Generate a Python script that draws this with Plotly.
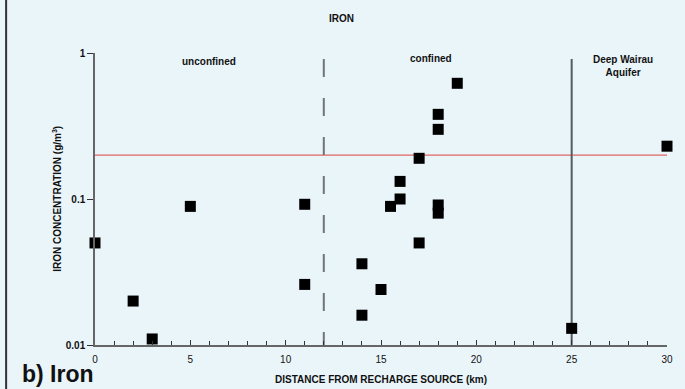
import math
import plotly.graph_objects as go

# Data
distance_km = [0, 2, 3, 5, 11, 11, 14, 14, 15, 15.5, 16, 16, 17, 17, 18, 18, 18, 18, 19, 25, 30]
iron_gm3 = [0.050, 0.020, 0.011, 0.089, 0.092, 0.026, 0.036, 0.016, 0.024, 0.089, 0.100, 0.132,
            0.190, 0.050, 0.38, 0.30, 0.091, 0.080, 0.62, 0.013, 0.23]

guideline_x = [0, 30]
guideline_y = [0.2, 0.2]

confined_boundary_x = 12
deep_aquifer_boundary_x = 25
boundary_top = 0.91
boundary_bottom = 0.01

zone_labels = ["unconfined", "confined", "Deep Wairau<br>Aquifer"]
zone_label_x = [6, 17.6, 27.7]
zone_label_y = [0.87, 0.92, 0.82]

x_tick_vals = [0, 5, 10, 15, 20, 25, 30]
y_tick_vals = [0.01, 0.1, 1]
y_tick_text = ["0.01", "0.1", "1"]

FONT = "Liberation Sans, Arial, sans-serif"
BG = "#EAF5FA"

fig = go.Figure()

# Guideline (red)
fig.add_trace(go.Scatter(x=guideline_x, y=guideline_y, mode="lines",
                         line=dict(color="#E06464", width=1.2), hoverinfo="skip",
                         showlegend=False, cliponaxis=False))

# Boundaries
fig.add_trace(go.Scatter(x=[confined_boundary_x, confined_boundary_x], y=[boundary_top, boundary_bottom],
                         mode="lines", line=dict(color="#6E7477", width=2, dash="18px,21px"),
                         hoverinfo="skip", showlegend=False))
fig.add_trace(go.Scatter(x=[deep_aquifer_boundary_x, deep_aquifer_boundary_x], y=[boundary_top, boundary_bottom],
                         mode="lines", line=dict(color="#555B5E", width=2),
                         hoverinfo="skip", showlegend=False))

# Data points
fig.add_trace(go.Scatter(x=distance_km, y=iron_gm3, mode="markers",
                         marker=dict(symbol="square", size=11, color="black",
                                     line=dict(width=0)),
                         showlegend=False, cliponaxis=False))

for txt, xx, yy in zip(zone_labels, zone_label_x, zone_label_y):
    fig.add_annotation(x=xx, y=math.log10(yy), xref="x", yref="y", yanchor="middle",
                       text=f"<b>{txt}</b>", showarrow=False,
                       font=dict(family=FONT, size=10, color="#111"), align="center")

# Chart title
fig.add_annotation(x=(343 - 94.5) / 576, y=(345 - 19) / 292, xref="paper", yref="paper",
                   text="<b>IRON</b>", showarrow=False, xanchor="center", yanchor="middle",
                   font=dict(family=FONT, size=10, color="#111"))

# Panel label
fig.add_annotation(x=(19 - 94.5) / 576, y=(345 - 389) / 292, xref="paper", yref="paper",
                   text="<b>b) Iron</b>", showarrow=False, xanchor="left", yanchor="bottom",
                   font=dict(family=FONT, size=23, color="#111"))

# Axis titles as annotations for precise placement
fig.add_annotation(x=0.5, y=(345 - 379) / 292, xref="paper", yref="paper",
                   text="<b>DISTANCE FROM RECHARGE SOURCE (km)</b>", showarrow=False,
                   xanchor="center", yanchor="middle",
                   font=dict(family=FONT, size=10, color="#111"))
fig.add_annotation(x=(56 - 94.5) / 576, y=0.5, xref="paper", yref="paper",
                   text="<b>IRON CONCENTRATION (g/m<sup>3</sup>)</b>", showarrow=False,
                   textangle=-90, xanchor="center", yanchor="middle",
                   font=dict(family=FONT, size=10, color="#111"))

# Left border of the panel
fig.add_shape(type="line", xref="paper", yref="paper",
              x0=(5 - 94.5) / 576, x1=(5 - 94.5) / 576, y0=-0.2, y1=1.3,
              line=dict(color="#333", width=2))

fig.update_xaxes(range=[0, 30], tickvals=x_tick_vals, ticks="inside", ticklen=5, tickwidth=1,
                 tickcolor="#333", showline=True, linecolor="#666", linewidth=1.5,
                 showgrid=False, zeroline=False, mirror=False, ticklabelstandoff=4,
                 minor=dict(dtick=1, ticks="inside", ticklen=4, tickcolor="#333", showgrid=False),
                 tickfont=dict(family=FONT, size=10, color="#111"),
                 tickprefix="<b>", ticksuffix="</b>")
fig.update_yaxes(type="log", range=[-2, 0], tickvals=y_tick_vals, ticktext=[f"<b>{t}</b>" for t in y_tick_text],
                 ticks="outside", ticklen=6, tickwidth=1, tickcolor="#333",
                 showline=True, linecolor="#666", linewidth=1.5,
                 showgrid=False, zeroline=False,
                 tickfont=dict(family=FONT, size=10, color="#111"))

fig.update_layout(width=685, height=389, paper_bgcolor=BG, plot_bgcolor=BG,
                  margin=dict(l=94.5, r=14.5, t=53, b=44),
                  font=dict(family=FONT, color="#111"))

fig.write_html("out.html")
